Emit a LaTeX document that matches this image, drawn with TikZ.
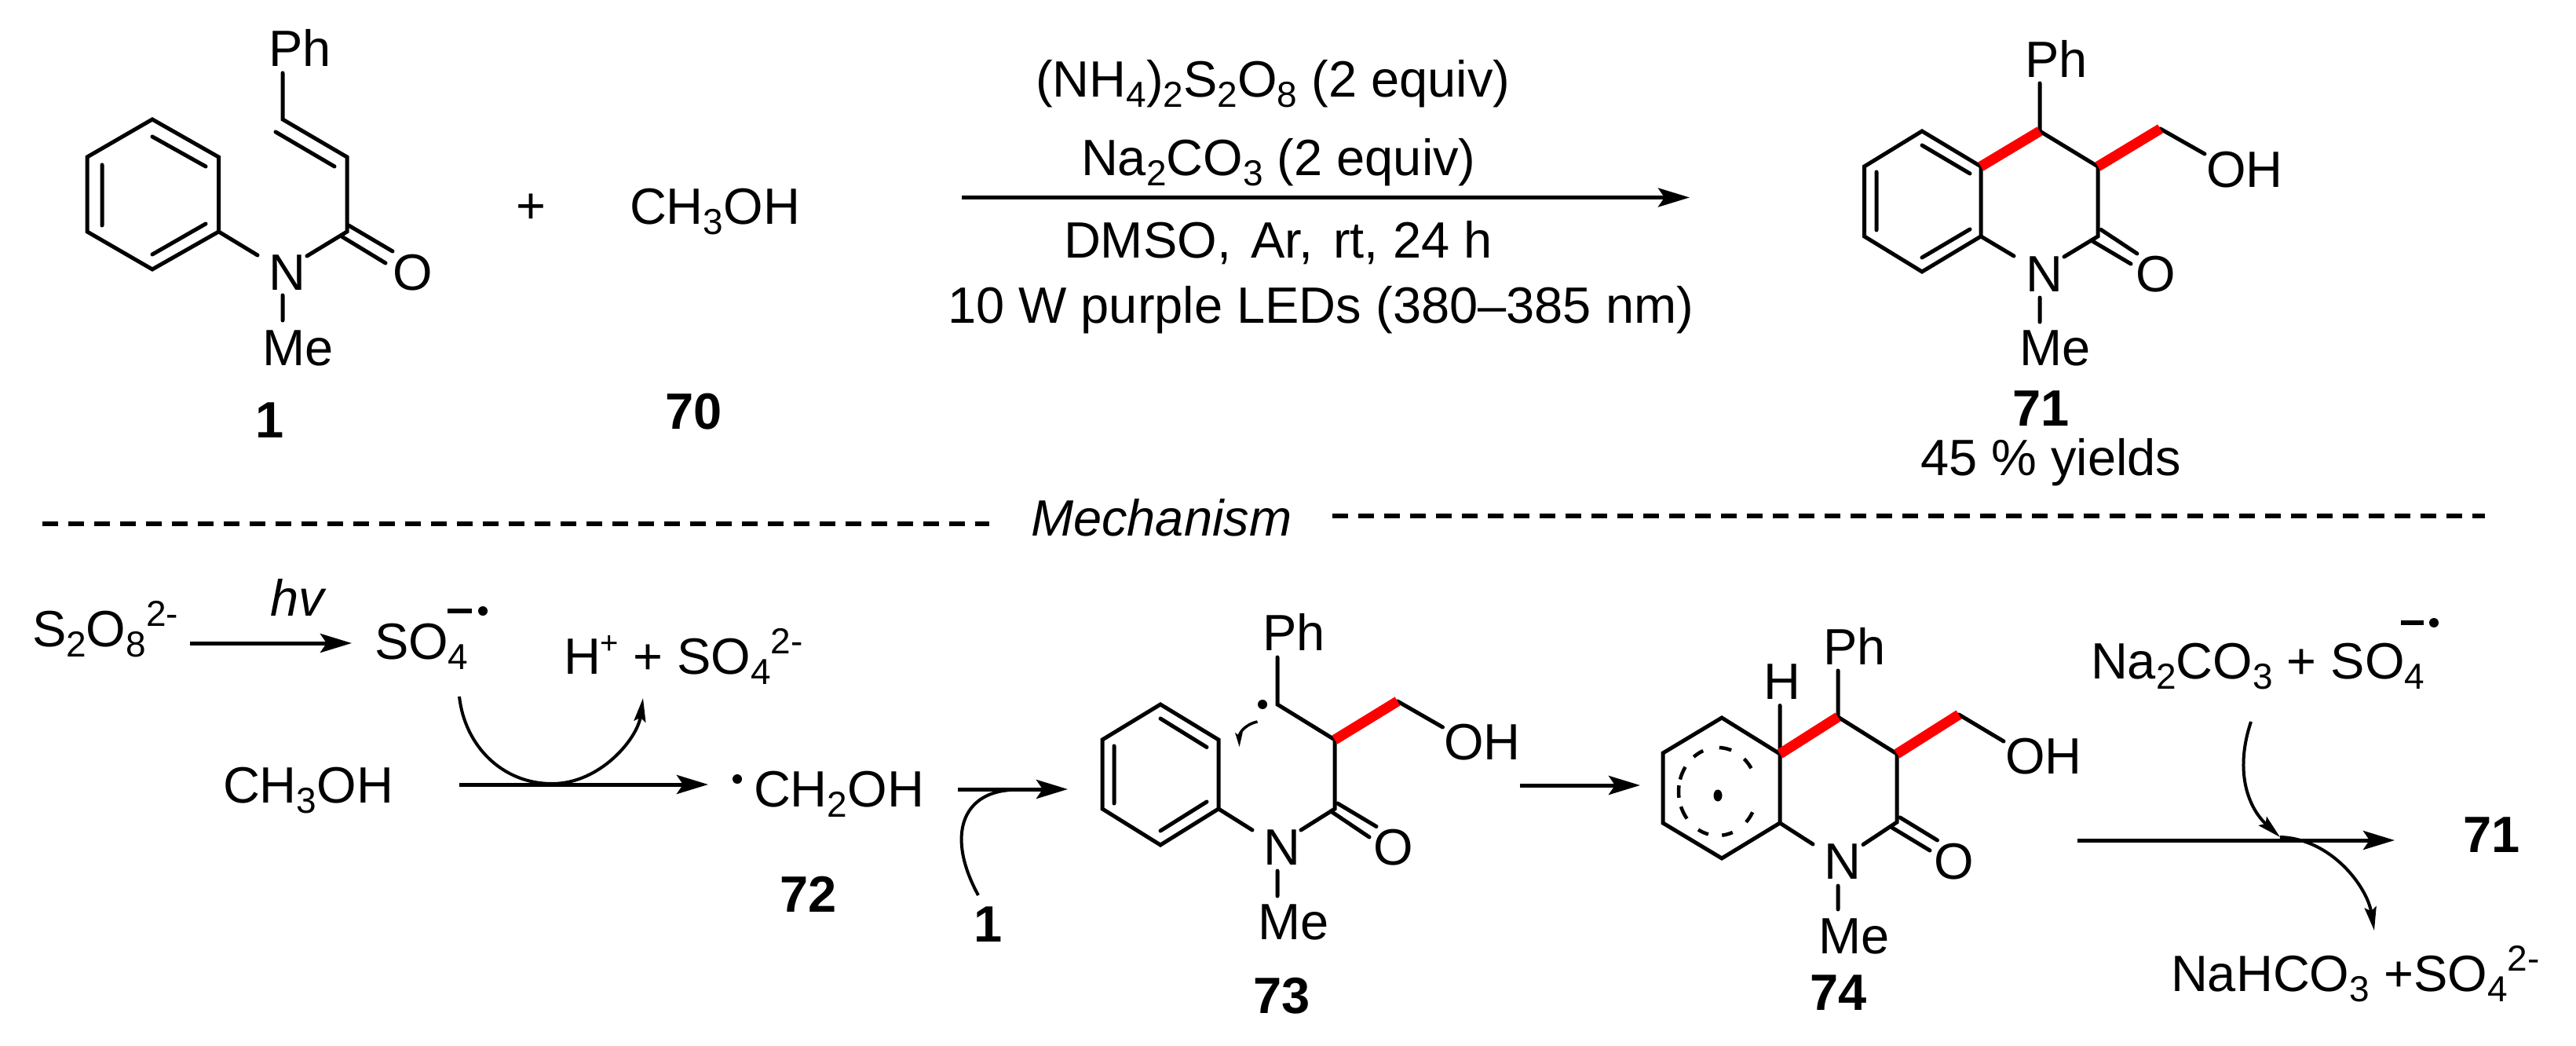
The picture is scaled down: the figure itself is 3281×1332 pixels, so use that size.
\documentclass[tikz,border=0pt]{standalone}
\usepackage{fontspec}
\setmainfont{Liberation Sans}
\usetikzlibrary{arrows.meta,shapes.geometric}
\newcommand{\sbs}[1]{\raisebox{-13pt}{\fontsize{46}{46}\selectfont #1}}
\newcommand{\sps}[1]{\raisebox{26pt}{\fontsize{46}{46}\selectfont #1}}
\definecolor{redbond}{RGB}{255,0,0}
\tikzset{
  lab/.style={anchor=base west,inner sep=0pt,outer sep=0pt,font=\fontsize{65}{65}\selectfont},
  num/.style={anchor=base west,inner sep=0pt,outer sep=0pt,font=\fontsize{65}{65}\selectfont\bfseries},
  bond/.style={line width=5pt,line cap=round,line join=miter},
  redb/.style={line width=13pt,draw=redbond,line cap=butt},
  rxn/.style={line width=5pt,-{Stealth[length=40pt,width=24pt,inset=8pt]}},
  curvy/.style={line width=4pt,-{Stealth[length=30pt,width=15pt,inset=5pt]}},
  curvyplain/.style={line width=4pt},
  dashline/.style={line width=5.5pt,dash pattern=on 20pt off 13pt},
  spot/.style={circle,fill=black,inner sep=0pt,minimum size=12pt}
}
\begin{document}
\begin{tikzpicture}[x=1pt,y=-1pt]
\useasboundingbox (0,0) rectangle (3281,1332);
\fill[white] (0,0) rectangle (3281,1332);

% ---------- structure 1
\coordinate (a1) at (194,152); \coordinate (a2) at (278.5,200); \coordinate (a3) at (278.5,295);
\coordinate (a4) at (194,343); \coordinate (a5) at (111,295); \coordinate (a6) at (111,200);
\coordinate (a7) at (360,152); \coordinate (a8) at (442,200); \coordinate (a9) at (442,295);
\coordinate (aPh) at (360,93); \coordinate (aNl) at (328,325); \coordinate (aNr) at (391,326);
\coordinate (aN1) at (360,376); \coordinate (aN2) at (360,408);
\draw[bond] (a1)--(a2)--(a3)--(a4)--(a5)--(a6)--cycle;
\coordinate (ai1) at (194,174); \coordinate (ai2) at (262,212);
\coordinate (ai3) at (130,210); \coordinate (ai4) at (130,287);
\coordinate (ai5) at (194,324); \coordinate (ai6) at (262,285);
\draw[bond] (ai1)--(ai2) (ai3)--(ai4) (ai5)--(ai6);
\draw[bond] (aPh)--(a7)--(a8)--(a9)--(aNr) (a3)--(aNl) (aN1)--(aN2);
\coordinate (ad1) at (351,168); \coordinate (ad2) at (426,212);
\draw[bond] (ad1)--(ad2);
\coordinate (ao1) at (444,287); \coordinate (ao2) at (500,320);
\coordinate (ao3) at (435,301); \coordinate (ao4) at (491,335);
\draw[bond] (ao1)--(ao2) (ao3)--(ao4);
\node[lab] (sPh) at (342,85) {Ph};
\node[lab] (sN) at (342,369) {N};
\node[lab] (sO) at (500,369) {O};
\node[lab] (sMe) at (334,465) {Me};
\node[num] (n1) at (325,557) {1};
\node[lab] (plus) at (657,285) {+};
\node[lab] (meoh) at (802,286) {CH\sbs{3}OH};
\node[num] (n70) at (847,546) {70};

% ---------- conditions
\node[lab] (c1) at (1319,124) {(NH\sbs{4})\sbs{2}S\sbs{2}O\sbs{8} (2 equiv)};
\node[lab] (c2) at (1377,224) {Na\sbs{2}CO\sbs{3} (2 equiv)};
\coordinate (r1s) at (1225,251.5); \coordinate (r1e) at (2152,251.5);
\draw[rxn] (r1s)--(r1e);
\node[lab] (c3) at (1355,328) {DMSO,\hspace{.39em}Ar,\hspace{.39em}rt, 24 h};
\node[lab] (c4) at (1207,411) {10 W purple LEDs (380–385 nm)};

% ---------- product 71
\coordinate (b1) at (2448,167); \coordinate (b2) at (2523,212); \coordinate (b3) at (2523,301);
\coordinate (b4) at (2448,346); \coordinate (b5) at (2374.5,301); \coordinate (b6) at (2374.5,212);
\coordinate (b7) at (2598,167); \coordinate (b8) at (2672,212); \coordinate (b9) at (2672,301);
\coordinate (b10) at (2751.5,164); \coordinate (bOH) at (2808,196);
\coordinate (bPh) at (2598,106); \coordinate (bNl) at (2565,326); \coordinate (bNr) at (2629,327);
\coordinate (bN1) at (2598,379); \coordinate (bN2) at (2598,410);
\draw[bond] (b1)--(b2)--(b3)--(b4)--(b5)--(b6)--cycle;
\coordinate (bi1) at (2448,185); \coordinate (bi2) at (2509,221);
\coordinate (bi3) at (2390,219); \coordinate (bi4) at (2390,293);
\coordinate (bi5) at (2448,328); \coordinate (bi6) at (2509,292);
\draw[bond] (bi1)--(bi2) (bi3)--(bi4) (bi5)--(bi6);
\draw[bond] (bPh)--(b7)--(b8)--(b9)--(bNr) (b3)--(bNl) (bN1)--(bN2) (b10)--(bOH);
\coordinate (bo1) at (2676,292.5); \coordinate (bo2) at (2722,323);
\coordinate (bo3) at (2665,307); \coordinate (bo4) at (2714,336);
\draw[bond] (bo1)--(bo2) (bo3)--(bo4);
\draw[redb] (b2)--(b7); \draw[redb] (b8)--(b10);
\node[lab] (pPh) at (2579,99) {Ph};
\node[lab] (pOH) at (2810,239) {OH};
\node[lab] (pN) at (2580,371) {N};
\node[lab] (pO) at (2720,371) {O};
\node[lab] (pMe) at (2572,465) {Me};
\node[num] (n71) at (2563,542) {71};
\node[lab] (yield) at (2446,605) {45 \% yields};

% ---------- divider
\coordinate (d1) at (54,667); \coordinate (d2) at (1260,667);
\coordinate (d3) at (1697,657); \coordinate (d4) at (3165,657);
\draw[dashline] (d1)--(d2);
\draw[dashline] (d3)--(d4);
\node[lab,font=\fontsize{65}{65}\selectfont\itshape] (mech) at (1313,682) {Mechanism};

% ---------- mechanism, left
\node[lab] (s2o8) at (41,823) {S\sbs{2}O\sbs{8}\sps{2-}};
\node[lab] (hv) at (344,784) {\itshape hv};
\coordinate (r2s) at (242,819); \coordinate (r2e) at (448,819);
\draw[rxn] (r2s)--(r2e);
\node[lab] (so4) at (477,839) {SO\sbs{4}};
\coordinate (m1) at (570,778); \coordinate (m2) at (601,778);
\draw[line width=5.5pt] (m1)--(m2);
\node[spot] (sd1) at (615,778) {};
\node[lab] (hso4) at (718,858) {H\raisebox{26pt}{\fontsize{40}{40}\selectfont +} + SO\sbs{4}\sps{2-}};
\node[lab] (meoh2) at (284,1022) {CH\sbs{3}OH};
\coordinate (r3s) at (585,999); \coordinate (r3e) at (902,999);
\draw[rxn] (r3s)--(r3e);
\coordinate (q1) at (585,887); \coordinate (q2) at (703,998); \coordinate (q3) at (819,889);
\draw[curvyplain] (q1) .. controls (592,950) and (640,998) .. (q2);
\draw[curvy] (q2) .. controls (765,998) and (812,940) .. (q3);
\node[spot] (sd2) at (939,992) {};
\node[lab] (rad) at (960,1027) {CH\sbs{2}OH};
\node[num] (n72) at (993,1161) {72};

% ---------- 72 to 73
\coordinate (r4s) at (1220,1005); \coordinate (r4e) at (1360,1005);
\draw[rxn] (r4s)--(r4e);
\coordinate (u1) at (1246,1140); \coordinate (u2) at (1287,1006);
\draw[curvyplain] (u1) .. controls (1205,1065) and (1225,1010) .. (u2);
\node[num] (n1b) at (1240,1199) {1};

% ---------- 73
\coordinate (c1a) at (1478,897); \coordinate (c2a) at (1552,942); \coordinate (c3a) at (1552,1030);
\coordinate (c4a) at (1478,1076); \coordinate (c5a) at (1404,1030); \coordinate (c6a) at (1404,942);
\coordinate (c7a) at (1627,897); \coordinate (c8a) at (1700,942); \coordinate (c9a) at (1700,1030);
\coordinate (c10a) at (1780,893); \coordinate (cOH) at (1837.5,926);
\coordinate (cPh) at (1627,837); \coordinate (cNl) at (1595,1057); \coordinate (cNr) at (1657,1057);
\coordinate (cN1) at (1627,1109); \coordinate (cN2) at (1627,1141);
\draw[bond] (c1a)--(c2a)--(c3a)--(c4a)--(c5a)--(c6a)--cycle;
\coordinate (ci1) at (1478,915); \coordinate (ci2) at (1537,951.5);
\coordinate (ci3) at (1419,950); \coordinate (ci4) at (1419,1023);
\coordinate (ci5) at (1478,1058); \coordinate (ci6) at (1537,1021);
\draw[bond] (ci1)--(ci2) (ci3)--(ci4) (ci5)--(ci6);
\draw[bond] (cPh)--(c7a)--(c8a)--(c9a)--(cNr) (c3a)--(cNl) (cN1)--(cN2) (c10a)--(cOH);
\coordinate (co1) at (1703.6,1023); \coordinate (co2) at (1753,1052.5);
\coordinate (co3) at (1695,1033); \coordinate (co4) at (1744,1066);
\draw[bond] (co1)--(co2) (co3)--(co4);
\draw[redb] (c8a)--(c10a);
\node[spot] (cdot) at (1608,897) {};
\coordinate (ca1) at (1601.5,919); \coordinate (ca2) at (1578.6,951.5);
\draw[line width=3.5pt,-{Stealth[length=18pt,width=9pt,inset=3pt]}] (ca1) .. controls (1584,923) and (1578,935) .. (ca2);
\node[lab] (tPh) at (1608,828) {Ph};
\node[lab] (tOH) at (1839,967) {OH};
\node[lab] (tN) at (1609,1101) {N};
\node[lab] (tO) at (1749,1101) {O};
\node[lab] (tMe) at (1602,1196) {Me};
\node[num] (n73) at (1596,1290) {73};
\coordinate (r5s) at (1936,1000); \coordinate (r5e) at (2089,1000);
\draw[rxn] (r5s)--(r5e);

% ---------- 74
\coordinate (e1) at (2193,914); \coordinate (e2) at (2267,960); \coordinate (e3) at (2267,1048);
\coordinate (e4) at (2193,1093); \coordinate (e5) at (2118,1048); \coordinate (e6) at (2118,959);
\coordinate (e7) at (2341,913); \coordinate (e8) at (2416,960); \coordinate (e9) at (2416,1047);
\coordinate (e10) at (2495,910); \coordinate (eOH) at (2552,944);
\coordinate (eH) at (2267,898.5); \coordinate (ePh) at (2341,854);
\coordinate (eNl) at (2309,1075); \coordinate (eNr) at (2373,1075.5);
\coordinate (eN1) at (2341,1128); \coordinate (eN2) at (2341,1158);
\draw[bond] (e1)--(e2)--(e3)--(e4)--(e5)--(e6)--cycle;
\draw[bond] (eH)--(e2) (ePh)--(e7)--(e8)--(e9)--(eNr) (e3)--(eNl) (eN1)--(eN2) (e10)--(eOH);
\coordinate (eo1) at (2420,1041); \coordinate (eo2) at (2467.5,1070);
\coordinate (eo3) at (2410,1054); \coordinate (eo4) at (2458,1083);
\draw[bond] (eo1)--(eo2) (eo3)--(eo4);
\draw[redb] (e2)--(e7); \draw[redb] (e8)--(e10);
\foreach \A/\B in {32/48,70/88,112/128,146/164,172/188,200/218,240/256,276/292,316/332}{
  \draw[line width=4.5pt] plot[domain=\A:\B,samples=6,smooth] ({2188+50*cos(\x)},{1008-56*sin(\x)});
}
\node[ellipse,fill=black,inner sep=0pt,minimum width=11pt,minimum height=15pt] (edot) at (2188,1013) {};
\node[lab] (uH) at (2246,890) {H};
\node[lab] (uPh) at (2322,846) {Ph};
\node[lab] (uOH) at (2554,985) {OH};
\node[lab] (uN) at (2323,1119) {N};
\node[lab] (uO) at (2463,1119) {O};
\node[lab] (uMe) at (2316,1214) {Me};
\node[num] (n74) at (2305,1286) {74};

% ---------- right side
\node[lab] (nac) at (2663,864) {Na\sbs{2}CO\sbs{3} + SO\sbs{4}};
\coordinate (m3) at (3058,793); \coordinate (m4) at (3087,793);
\draw[line width=5.5pt] (m3)--(m4);
\node[spot] (sd3) at (3100,793) {};
\coordinate (r6s) at (2646,1070); \coordinate (r6e) at (3050,1070);
\draw[rxn] (r6s)--(r6e);
\node[num] (n71b) at (3137,1085) {71};
\coordinate (v1) at (2867,919); \coordinate (v2) at (2904,1066);
\draw[curvy] (v1) .. controls (2845,985) and (2865,1030) .. (v2);
\coordinate (v3) at (2904,1066); \coordinate (v4) at (3024,1185);
\draw[curvy] (v3) .. controls (2970,1068) and (3015,1130) .. (v4);
\node[lab] (nah) at (2765,1262) {NaHCO\sbs{3} +SO\sbs{4}\sps{2-}};
\end{tikzpicture}
\end{document}
